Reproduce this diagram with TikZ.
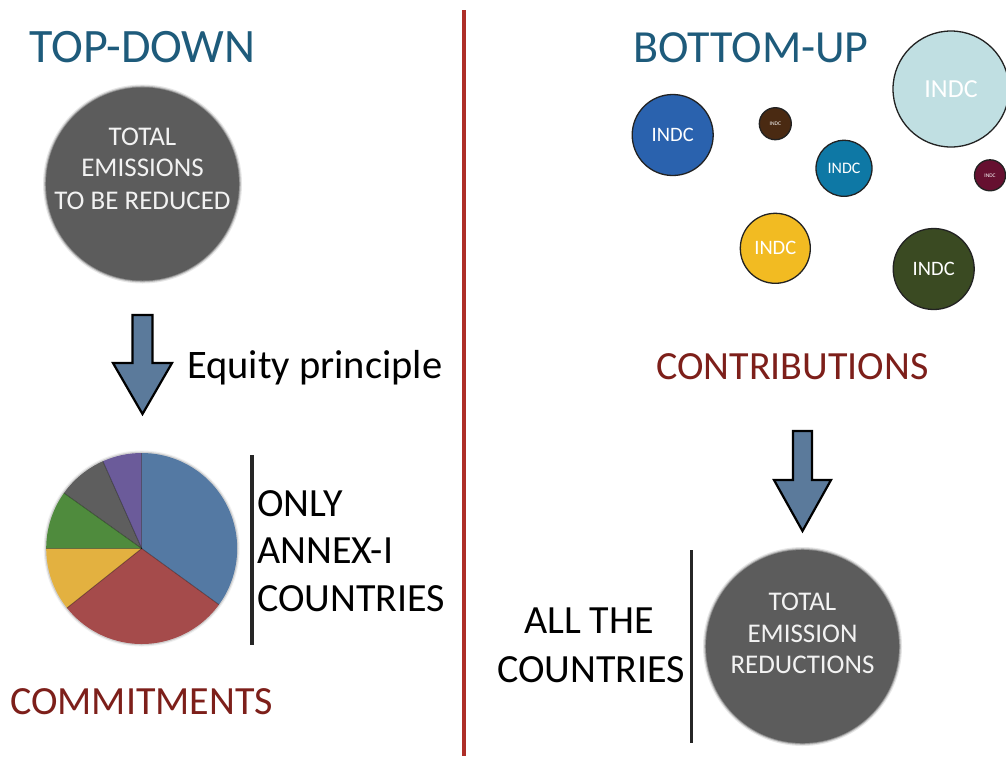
\documentclass[tikz,border=0pt]{standalone}
\usepackage{fontspec}
\setmainfont{Carlito}
\begin{document}
\begin{tikzpicture}[x=1pt,y=-1pt,
  titletext/.style={text=titleblue,inner sep=0pt,anchor=base west,font=\fontsize{48}{48}\selectfont},
  redtext/.style={text=labelred,inner sep=0pt,anchor=base west,font=\fontsize{40}{40}\selectfont},
  plaintext/.style={text=black,inner sep=0pt,font=\fontsize{40}{40}\selectfont},
  discline/.style={text=discwhite,inner sep=0pt,anchor=base,font=\fontsize{27}{27}\selectfont},
  indc/.style={circle,draw=indcline,line width=1.3pt,inner sep=0pt,text=white},
  blockarrow/.style={draw=black,line width=2.2pt,fill=arrowblue,line join=miter},
  bar/.style={draw=black!85,line width=3.5pt},
]
\definecolor{titleblue}{HTML}{1E5B7B}
\definecolor{labelred}{HTML}{7D1F1A}
\definecolor{divider}{HTML}{AE2E28}
\definecolor{discgray}{HTML}{5C5C5C}
\definecolor{discwhite}{HTML}{F2F2F2}
\definecolor{arrowblue}{HTML}{5B7A9B}
\definecolor{indcline}{HTML}{222222}
\definecolor{pieblue}{HTML}{5479A3}
\definecolor{piered}{HTML}{A54B4B}
\definecolor{pieyellow}{HTML}{E3B140}
\definecolor{piegreen}{HTML}{4F8B3D}
\definecolor{piegray}{HTML}{5E5E5E}
\definecolor{piepurple}{HTML}{6B5B9A}
\definecolor{cLight}{HTML}{C0DFE2}
\definecolor{cBlue}{HTML}{2A62AE}
\definecolor{cBrown}{HTML}{4A2A12}
\definecolor{cTeal}{HTML}{0E78A5}
\definecolor{cMaroon}{HTML}{661030}
\definecolor{cYellow}{HTML}{F2BB22}
\definecolor{cGreen}{HTML}{3A4A22}

\useasboundingbox (0,0) rectangle (1006,756);
\fill[white] (0,0) rectangle (1006,756);

% divider between the two approaches
\draw[divider,line width=4pt] (464,10) -- (464,756);

% ---------- left column: top-down ----------
\node[titletext] (tdtitle) at (29,62.7) {TOP-DOWN};

% total emissions disc, soft edge
\foreach \w/\o in {3/0.15,1.8/0.3,0.8/0.55}
  \fill[discgray,opacity=\o] (142.5,184) circle[radius=96.5+\w];
\fill[discgray] (142.5,184) circle[radius=96.5];
\node[discline] (td1) at (142.5,145) {TOTAL};
\node[discline] (td2) at (142.5,176.5) {EMISSIONS};
\node[discline] (td3) at (142.5,209) {TO BE REDUCED};

\draw[blockarrow] (132.5,315) -- (152.5,315) -- (152.5,363) -- (172,363)
  -- (142.5,414) -- (113,363) -- (132.5,363) -- cycle;
\node[plaintext,anchor=base west,font=\fontsize{40.5}{40.5}\selectfont] (equity) at (187,378) {Equity principle};

% shares of the reduction
\coordinate (pc) at (141.7,548.5);
\foreach \w/\o in {2.5/0.15,1.3/0.35}
  \fill[black!40,opacity=\o] (pc) circle[radius=95.5+\w];
\foreach \a/\b/\c in {-90/36/pieblue,-114/-90/piepurple,-144.5/-114/piegray,
                      -180/-144.5/piegreen,-218.5/-180/pieyellow,-324/-218.5/piered}
  \fill[\c] (pc) -- ++(\a:95.5) arc[start angle=\a,end angle=\b,radius=95.5] -- cycle;
\foreach \a in {-90,36,-114,-144.5,-180,-218.5}
  \draw[black,opacity=0.35,line width=0.8pt] (pc) -- ++(\a:95.5);

\draw[bar] (252,455) -- (252,645);
\node[plaintext,anchor=base west] (only) at (257,516) {ONLY};
\node[plaintext,anchor=base west] (annex) at (257,563.5) {ANNEX-I};
\node[plaintext,anchor=base west] (countriesA) at (257,611) {COUNTRIES};

\node[redtext] (commit) at (10,714) {COMMITMENTS};

% ---------- right column: bottom-up ----------
\node[titletext,font=\fontsize{46}{46}\selectfont] (butitle) at (633,62.7) {BOTTOM-UP};

\node[indc,fill=cLight,minimum size=116pt,font=\fontsize{26}{26}\selectfont] (n1) at (951,89) {INDC};
\node[indc,fill=cBlue,minimum size=81pt,font=\fontsize{20.5}{20.5}\selectfont] (n2) at (672.7,135) {INDC};
\node[indc,fill=cBrown,minimum size=32pt,font=\fontsize{5.5}{5.5}\selectfont] (n3) at (775.3,123.7) {INDC};
\node[indc,fill=cTeal,minimum size=56pt,font=\fontsize{16}{16}\selectfont] (n4) at (844,168.3) {INDC};
\node[indc,fill=cMaroon,minimum size=31pt,font=\fontsize{5.5}{5.5}\selectfont] (n5) at (990,175.3) {INDC};
\node[indc,fill=cYellow,minimum size=70pt,font=\fontsize{20.5}{20.5}\selectfont] (n6) at (775.3,248.3) {INDC};
\node[indc,fill=cGreen,minimum size=81pt,font=\fontsize{20.5}{20.5}\selectfont] (n7) at (933.7,269) {INDC};

\node[redtext] (contrib) at (656,379) {CONTRIBUTIONS};

\draw[blockarrow] (793,431) -- (812,431) -- (812,480) -- (831,480)
  -- (802.5,531) -- (774,480) -- (793,480) -- cycle;

% total emission reductions disc
\foreach \w/\o in {3/0.15,1.8/0.3,0.8/0.55}
  \fill[discgray,opacity=\o] (802.5,646.5) circle[radius=96.5+\w];
\fill[discgray] (802.5,646.5) circle[radius=96.5];
\node[discline] (bu1) at (802.5,610.5) {TOTAL};
\node[discline] (bu2) at (802.5,642) {EMISSION};
\node[discline] (bu3) at (802.5,673.5) {REDUCTIONS};

\draw[bar] (691.7,550) -- (691.7,743);
\node[plaintext,anchor=base east] (allthe) at (654,633) {ALL THE};
\node[plaintext,anchor=base east] (countriesB) at (685,682) {COUNTRIES};
\end{tikzpicture}
\end{document}
